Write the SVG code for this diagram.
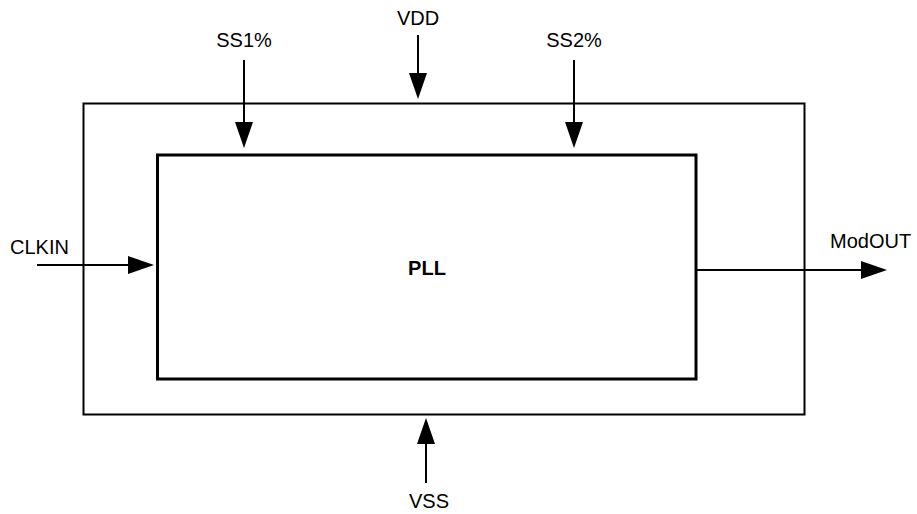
<svg xmlns="http://www.w3.org/2000/svg" width="917" height="514" viewBox="0 0 917 514">
<style>
text{font-family:"Liberation Sans",Arial,sans-serif;font-size:20px;fill:#000}
.c{text-anchor:middle}
.b{font-weight:bold}
.outer{fill:none;stroke:#000;stroke-width:2}
.inner{fill:none;stroke:#000;stroke-width:3}
.w{fill:none;stroke:#000;stroke-width:2}
</style>
<defs>
<marker id="ah" markerUnits="userSpaceOnUse" markerWidth="26" markerHeight="18" refX="16" refY="9" orient="auto">
<path d="M0,0 L26,9 L0,18 z" fill="#000"/>
</marker>
</defs>
<rect width="917" height="514" fill="#fff"/>
<g id="outer">
<rect class="outer" x="83.5" y="103.5" width="721" height="311"/>
</g>
<g id="pll">
<rect class="inner" x="157.5" y="155" width="538.5" height="224"/>
<text class="c b" x="427" y="275">PLL</text>
</g>
<g id="connectors">
<line class="w" x1="244" y1="60" x2="244" y2="138" marker-end="url(#ah)"/>
<line class="w" x1="418" y1="35" x2="418" y2="89" marker-end="url(#ah)"/>
<line class="w" x1="574" y1="60" x2="574" y2="138" marker-end="url(#ah)"/>
<line class="w" x1="37" y1="265" x2="144" y2="265" marker-end="url(#ah)"/>
<line class="w" x1="696" y1="270" x2="877" y2="270" marker-end="url(#ah)"/>
<line class="w" x1="426" y1="483" x2="426" y2="428" marker-end="url(#ah)"/>
</g>
<g id="labels">
<text class="c" x="244" y="47">SS1%</text>
<text class="c" x="418" y="25">VDD</text>
<text class="c" x="574" y="47">SS2%</text>
<text x="10" y="254">CLKIN</text>
<text x="830" y="248">ModOUT</text>
<text class="c" x="429" y="508">VSS</text>
</g>
</svg>
